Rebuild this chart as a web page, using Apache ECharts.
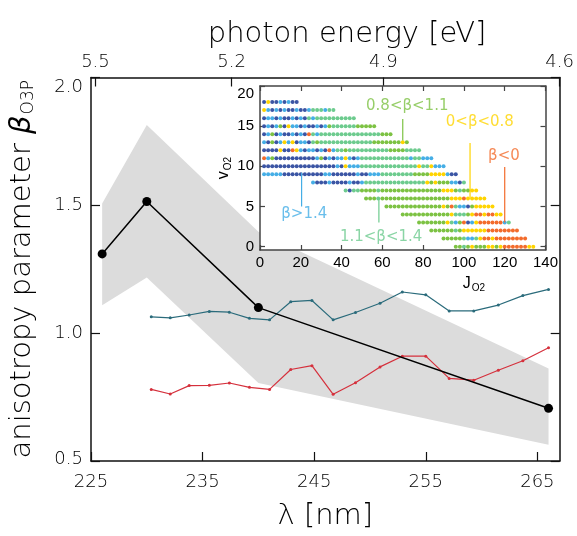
<!DOCTYPE html>
<html><head><meta charset="utf-8">
<script src="https://cdn.jsdelivr.net/npm/echarts@6/dist/echarts.min.js"></script>
<style>html,body{margin:0;padding:0;background:#fff}#c{width:577px;height:536px}</style>
</head><body><div id="c"></div>
<script>
// ---- main axes ----
const wavelengthTicks = [225, 235, 245, 255, 265];
const energyTickLabels = ['5.5', '5.2', '4.9', '4.6'];
const energyTickNm = [225.4, 237.6, 251.2, 267];
const betaTicks = [0.5, 1.0, 1.5, 2.0];
// ---- gray band (range) ----
const bandNm = [226, 230, 240, 266];
const bandUpper = [1.507, 1.814, 1.397, 0.862];
const bandLower = [1.109, 1.218, 0.805, 0.564];
// ---- black measured points ----
const measNm = [226, 230, 240, 266];
const measBeta = [1.31, 1.515, 1.10, 0.706];
// ---- calculated curves ----
const calcNm = [230.4, 232.1, 233.8, 235.6, 237.4, 239.2, 241.0, 242.9, 244.8, 246.7, 248.7, 250.9, 252.9, 255.0, 257.1, 259.3, 261.5, 263.7, 266.0];
const calcBetaTeal = [1.064, 1.060, 1.071, 1.085, 1.082, 1.058, 1.052, 1.123, 1.128, 1.052, 1.081, 1.117, 1.161, 1.150, 1.087, 1.087, 1.110, 1.147, 1.171];
const calcBetaRed = [0.780, 0.762, 0.795, 0.796, 0.805, 0.788, 0.780, 0.858, 0.873, 0.761, 0.806, 0.868, 0.910, 0.910, 0.823, 0.816, 0.855, 0.892, 0.943];
// ---- inset ----
const insetJTicks = [0, 20, 40, 60, 80, 100, 120, 140];
const insetVTicks = [0, 5, 10, 15, 20];
const insetV = [18, 17, 16, 15, 14, 13, 12, 11, 10, 9, 8, 7, 6, 5, 4, 3, 2, 1, 0];
const insetJStart = [2, 2, 2, 2, 2, 2, 2, 2, 2, 2, 26, 42, 52, 62, 70, 78, 84, 90, 96];
const insetJStep = 2;
const insetCodes = [
  'DYDDBDBDD',
  'YBDBDBDDBDDBTTTBTT',
  'DBBDBDDBDBDTBTTTTTTTTTT',
  'DBDBGDYBBDBDDBDBGTTTTTTGGGGG',
  'DBGDBDDBDBDRTBTTTTTTTTTTTTTTTGGG',
  'BDGDBYBYDBBDTGTTTTTTTTTTTTTGGGGGGGYG',
  'DDDDYDDRYBDBBDBDRBTTGTTTTTTTTTTGGGGTTTT',
  'RBGDDDDDDDDDDBGDBDBBYBDBTTTTTTTTTTTTBTTBBB',
  'DDDDDDDDDDDDDDDDDDBDYBBBTTTTTTTTTTTTTTYTTYBBB',
  'BBBBBDDDDDDDDDDBBDDDDDDBDDBBBTTTTTTTTGGGGYYYYBDD',
  'BDDDBDDDDBDDBTTTTTTTTTTTTTTTYGYGGGBBDT',
  'TDTTGGGGTGGGGGGGGGGGGGGGYYYGTGGYY',
  'GGGTGGGGGGGGGGGGGGGGGYYYRYYYYY',
  'GGGGGGGGGGGGGGYGRTBBDGYYYYY',
  'GGGGGGGGGGGGYTTTGYRRYRRYY',
  'GGGGGGGYTBGRDBYRRRRRRBT',
  'GGGGGGTGYYYYYYRRRRRRRR',
  'GGGGGTBBTYRRYRRRRRRRR',
  'GGTGYGGGYYGYRRRRRRYY'
];
const codeColor = { D: '#3b55a4', B: '#45aee6', T: '#6dcb8e', G: '#7dc243', Y: '#ffd400', R: '#f36c2c' };
// annotations in the inset
const annoText = ['0.8<β<1.1', '0<β<0.8', 'β<0', 'β>1.4', '1.1<β<1.4'];
const annoCode = ['G', 'Y', 'R', 'B', 'T'];
const annoTextAt = [[72.2, 17.5], [107.8, 15.55], [119.6, 11.3], [21.7, 4.1], [59.4, 1.2]];
const annoLeader = [[[70, 13.2], [70, 15.9]], [[103, 6.1], [103, 12.9]], [[120, 3.0], [120, 9.9]], [[20.4, 9.2], [20.4, 5.0]], [[58.3, 6.05], [58.3, 3.0]]];

const FONT = '"DejaVu Sans", sans-serif';
const FW = 200;
const IFONT = '"Liberation Sans", Arial, sans-serif';
const INK = '#000';

const insetData = [];
insetCodes.forEach((codes, r) => {
  for (let i = 0; i < codes.length; i++) {
    insetData.push([insetJStart[r] + insetJStep * i, insetV[r], codes[i]]);
  }
});

const chart = echarts.init(document.getElementById('c'), null, { renderer: 'canvas' });

function nearestLabel(v) {
  let best = 0;
  for (let i = 1; i < energyTickNm.length; i++) if (Math.abs(energyTickNm[i] - v) < Math.abs(energyTickNm[best] - v)) best = i;
  return energyTickLabels[best];
}
const yLo = betaTicks[0], yHi = betaTicks[betaTicks.length - 1];
function betaLabel(v) {
  const s = v.toFixed(1);
  if (Math.abs(v - yHi) < 1e-9) return '{hi|' + s + '}';
  if (Math.abs(v - yLo) < 1e-9) return '{lo|' + s + '}';
  return '{m|' + s + '}';
}
const lblFont = { fontFamily: FONT, fontWeight: FW, fontSize: 18, color: INK };

const mainLine = { show: true, onZero: false, lineStyle: { color: '#111', width: 1.5 } };
const mainTick = (vals) => ({ show: true, inside: true, length: 9, customValues: vals, lineStyle: { color: '#111', width: 1.2 } });
const insetLine = { show: true, onZero: false, lineStyle: { color: '#444', width: 1.5 } };
const insetTick = (vals) => ({ show: true, inside: true, length: 5, customValues: vals, lineStyle: { color: '#444', width: 1.2 } });

const series = [];
series.push({
  type: 'custom', xAxisIndex: 0, yAxisIndex: 0, z: 1, silent: true,
  data: [0],
  renderItem: function (params, api) {
    const pts = [];
    for (let i = 0; i < bandNm.length; i++) pts.push(api.coord([bandNm[i], bandUpper[i]]));
    for (let i = bandNm.length - 1; i >= 0; i--) pts.push(api.coord([bandNm[i], bandLower[i]]));
    return { type: 'polygon', shape: { points: pts }, style: { fill: '#dcdcdc', stroke: null } };
  }
});
series.push({
  type: 'line', xAxisIndex: 0, yAxisIndex: 0, z: 2, silent: true,
  data: calcNm.map((x, i) => [x, calcBetaTeal[i]]),
  symbol: 'circle', symbolSize: 3, showSymbol: true,
  lineStyle: { color: '#2a6b7b', width: 1.2 }, itemStyle: { color: '#2a6b7b' }
});
series.push({
  type: 'line', xAxisIndex: 0, yAxisIndex: 0, z: 2, silent: true,
  data: calcNm.map((x, i) => [x, calcBetaRed[i]]),
  symbol: 'circle', symbolSize: 3, showSymbol: true,
  lineStyle: { color: '#d5303c', width: 1.2 }, itemStyle: { color: '#d5303c' }
});
series.push({
  type: 'line', xAxisIndex: 0, yAxisIndex: 0, z: 2.5, silent: true,
  data: measNm.map((x, i) => [x, measBeta[i]]),
  symbol: 'circle', symbolSize: 9,
  lineStyle: { color: '#000', width: 1.5 }, itemStyle: { color: '#000' }
});
// inset dots
series.push({
  type: 'scatter', xAxisIndex: 2, yAxisIndex: 2, z: 5, silent: true,
  data: insetData, symbol: 'circle', symbolSize: 4,
  itemStyle: { color: (p) => codeColor[p.value[2]], opacity: 1 }
});
// leaders and texts
annoLeader.forEach((seg, k) => {
  series.push({
    type: 'line', xAxisIndex: 2, yAxisIndex: 2, z: 6, silent: true,
    data: seg, symbol: 'none', lineStyle: { color: codeColor[annoCode[k]], width: 1.2 }
  });
});
series.push({
  type: 'scatter', xAxisIndex: 2, yAxisIndex: 2, z: 7, silent: true, clip: false,
  data: annoTextAt.map((p, k) => ({ value: p, label: { color: codeColor[annoCode[k]] }, name: annoText[k] })),
  symbolSize: 0,
  label: { show: true, position: 'inside', formatter: (p) => p.name, fontFamily: FONT, fontSize: 15, fontWeight: 400 }
});

const option = {
  animation: false,
  backgroundColor: '#fff',
  grid: [
    { left: 89, right: 9, top: 77.5, bottom: 70.3, show: false },
    { left: 260, right: 31.5, top: 86, bottom: 286, show: true, backgroundColor: '#fff', borderWidth: 0, z: 3 }
  ],
  graphic: [
    { type: 'text', x: 347, y: 34, z: 10, style: { text: 'photon energy [eV]', fontFamily: FONT, fontWeight: FW, fontSize: 29, fill: INK, align: 'center', verticalAlign: 'middle' } },
    { type: 'text', x: 474, y: 284, z: 10, style: { text: '{a|J}{s|O2}', rich: { a: { fontSize: 16, fontFamily: IFONT, fill: INK }, s: { fontSize: 10, fontFamily: IFONT, fill: INK, padding: [9, 0, 0, 1] } }, align: 'center', verticalAlign: 'middle' } }
  ],
  xAxis: [
    {
      gridIndex: 0, type: 'value', min: 225, max: 267, position: 'bottom',
      axisLine: mainLine, axisTick: mainTick(wavelengthTicks), splitLine: { show: false },
      axisLabel: { customValues: wavelengthTicks, fontFamily: FONT, fontWeight: FW, fontSize: 18, color: INK, margin: 12 },
      name: 'λ [nm]', nameLocation: 'middle', nameGap: 41,
      nameTextStyle: { fontFamily: FONT, fontWeight: FW, fontSize: 29, color: INK }
    },
    {
      gridIndex: 0, type: 'value', min: 225, max: 267, position: 'top',
      axisLine: mainLine, axisTick: mainTick(energyTickNm), splitLine: { show: false },
      axisLabel: { customValues: energyTickNm, formatter: (v) => nearestLabel(v), fontFamily: FONT, fontWeight: FW, fontSize: 18, color: INK, margin: 6 }
    },
    {
      gridIndex: 1, type: 'value', min: 0, max: 140, interval: 20, position: 'bottom', z: 4,
      axisLine: insetLine, axisTick: insetTick(insetJTicks), splitLine: { show: false },
      axisLabel: { customValues: insetJTicks, fontFamily: IFONT, fontSize: 15, color: INK, margin: 5 }
    },
    {
      gridIndex: 1, type: 'value', min: 0, max: 140, position: 'top', z: 4,
      axisLine: insetLine, axisTick: insetTick(insetJTicks), axisLabel: { show: false }, splitLine: { show: false }
    }
  ],
  yAxis: [
    {
      gridIndex: 0, type: 'value', min: 0.5, max: 2.0, position: 'left',
      axisLine: mainLine, axisTick: mainTick(betaTicks), splitLine: { show: false },
      axisLabel: {
        customValues: betaTicks, formatter: betaLabel, margin: 8,
        rich: {
          m: Object.assign({}, lblFont),
          hi: Object.assign({ padding: [20, 0, 0, 0] }, lblFont),
          lo: Object.assign({ padding: [0, 0, 4, 0] }, lblFont)
        }
      },
      name: '{a|anisotropy parameter }{b|β}{s|O3P}', nameLocation: 'middle', nameGap: 54,
      nameTextStyle: {
        rich: {
          a: { fontFamily: FONT, fontWeight: FW, fontSize: 29, color: INK },
          b: { fontFamily: FONT, fontWeight: FW, fontStyle: 'italic', fontSize: 29, color: INK },
          s: { fontFamily: FONT, fontWeight: FW, fontSize: 17, color: INK, padding: [12, 0, 0, 1] }
        }
      }
    },
    {
      gridIndex: 0, type: 'value', min: 0.5, max: 2.0, position: 'right',
      axisLine: mainLine, axisTick: mainTick(betaTicks), axisLabel: { show: false }, splitLine: { show: false }
    },
    {
      gridIndex: 1, type: 'value', min: -0.42, max: 20, position: 'left', z: 4,
      axisLine: insetLine, axisTick: insetTick(insetVTicks), splitLine: { show: false },
      axisLabel: { customValues: insetVTicks, fontFamily: IFONT, fontSize: 15, color: INK, margin: 6, verticalAlignMaxLabel: 'top' },
      name: '{a|v}{s|O2}', nameLocation: 'middle', nameGap: 22,
      nameTextStyle: {
        rich: {
          a: { fontFamily: IFONT, fontSize: 16, color: INK },
          s: { fontFamily: IFONT, fontSize: 10, color: INK, padding: [9, 0, 0, 1] }
        }
      }
    },
    {
      gridIndex: 1, type: 'value', min: -0.42, max: 20, position: 'right', z: 4,
      axisLine: insetLine, axisTick: insetTick(insetVTicks), axisLabel: { show: false }, splitLine: { show: false }
    }
  ],
  series: series
};
chart.setOption(option);
</script></body></html>
